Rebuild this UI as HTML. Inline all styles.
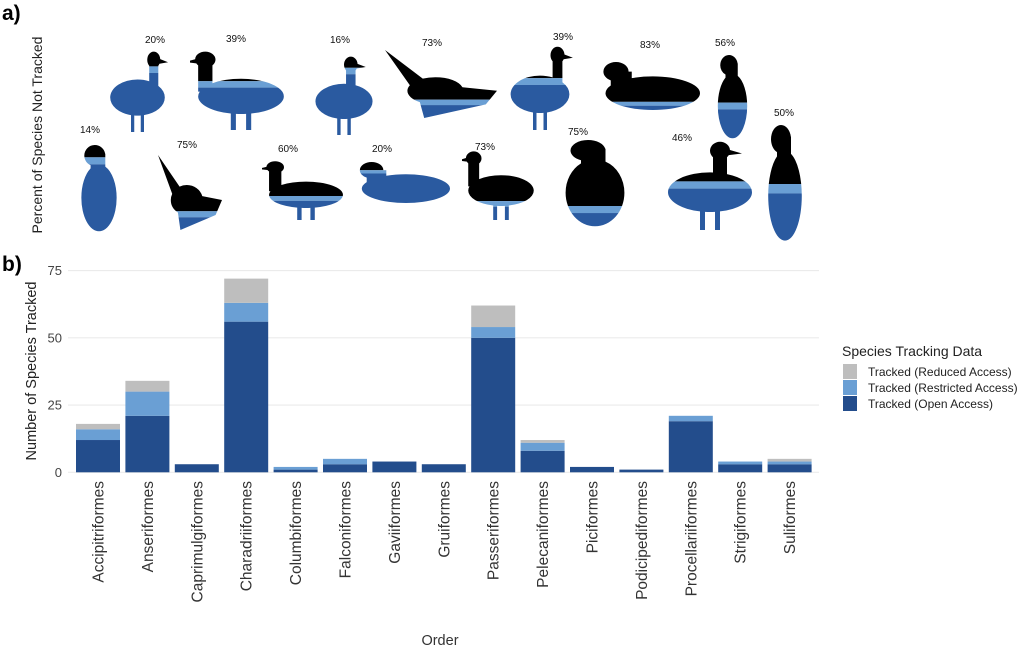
<!DOCTYPE html>
<html><head><meta charset="utf-8"><style>
html,body{margin:0;padding:0;background:#fff;}
svg{display:block;font-family:"Liberation Sans",Arial,sans-serif;}
</style></head><body>
<svg id="s" width="1024" height="649" viewBox="0 0 1024 649" xmlns="http://www.w3.org/2000/svg">
<rect width="1024" height="649" fill="#fff"/>
<text x="2" y="20" font-size="21" font-weight="bold" fill="#000">a)</text>
<text x="2" y="271" font-size="21" font-weight="bold" fill="#000">b)</text>
<text transform="translate(42,135) rotate(-90)" text-anchor="middle" font-size="14" fill="#222">Percent of Species Not Tracked</text>
<g id="birds"></g>
<g id="chart"></g>
<text transform="translate(36,371) rotate(-90)" text-anchor="middle" font-size="14.5" fill="#222">Number of Species Tracked</text>
<text x="440" y="645" text-anchor="middle" font-size="14.5" fill="#333">Order</text>
<text x="842" y="356" font-size="14" fill="#222">Species Tracking Data</text>
<rect x="843" y="364" width="14" height="15" fill="#bebebe"/>
<rect x="843" y="380" width="14" height="15" fill="#6a9fd4"/>
<rect x="843" y="396" width="14" height="15" fill="#234d8c"/>
<text x="868" y="376" font-size="12" fill="#222">Tracked (Reduced Access)</text>
<text x="868" y="392" font-size="12" fill="#222">Tracked (Restricted Access)</text>
<text x="868" y="408" font-size="12" fill="#222">Tracked (Open Access)</text>
</svg>
<script>
var NS="http://www.w3.org/2000/svg";
function el(p,t,a){var e=document.createElementNS(NS,t);for(var k in a)e.setAttribute(k,a[k]);p.appendChild(e);return e;}
var ch=document.getElementById("chart");
var y0=472.3,u=2.69;
[0,25,50,75].forEach(function(v){var y=y0-v*u;
 el(ch,"line",{x1:68,x2:819,y1:y,y2:y,stroke:"#ebebeb","stroke-width":1.2});
 var t=el(ch,"text",{x:62,y:y+4.5,"text-anchor":"end","font-size":13,fill:"#444"});t.textContent=v;});
var data=[["Accipitriformes",12,4,2],["Anseriformes",21,9,4],["Caprimulgiformes",3,0,0],["Charadriiformes",56,7,9],["Columbiformes",1,1,0],["Falconiformes",3,2,0],["Gaviiformes",4,0,0],["Gruiformes",3,0,0],["Passeriformes",50,4,8],["Pelecaniformes",8,3,1],["Piciformes",2,0,0],["Podicipediformes",1,0,0],["Procellariiformes",19,2,0],["Strigiformes",3,1,0],["Suliformes",3,1,1]];
data.forEach(function(d,i){var cx=98+i*49.4,x=cx-22;var b=y0;
 [[d[1],"#234d8c"],[d[2],"#6a9fd4"],[d[3],"#bebebe"]].forEach(function(s){if(s[0]>0){el(ch,"rect",{x:x,y:b-s[0]*u,width:44,height:s[0]*u,fill:s[1]});b-=s[0]*u;}});
 var t=el(ch,"text",{transform:"translate("+(cx+5.5)+",481) rotate(-90)","text-anchor":"end","font-size":15.5,fill:"#333"});t.textContent=d[0];});
var bg=document.getElementById("birds");
var birds=[
[155,43,20,105,50,170,132,1],[236,42,39,190,50,292,130,2],[340,43,16,310,55,378,135,3],[432,46,73,385,50,497,118,4],
[563,40,39,505,45,575,130,1],[650,48,83,595,62,700,110,5],[725,46,56,715,55,750,140,6],
[90,133,14,78,145,120,233,6],[187,148,75,158,155,222,230,4],[288,152,60,262,160,350,220,2],[382,152,20,352,162,450,203,5],
[485,150,73,462,150,540,220,2],[578,135,75,560,140,630,228,6],[682,141,46,660,140,760,230,3],[784,116,50,765,125,805,243,6]];
birds.forEach(function(b,i){
 var t=el(bg,"text",{x:b[0],y:b[1],"text-anchor":"middle","font-size":10,fill:"#111"});t.textContent=b[2]+"%";
 var x1=b[3],y1=b[4],x2=b[5],y2=b[6],w=x2-x1,h=y2-y1,cp="cp"+i;
 var c=el(bg,"clipPath",{id:cp});
 var typ=b[7];
 if(typ==6){
  el(c,"ellipse",{cx:x1+w*0.5,cy:y1+h*0.6,rx:w*0.42,ry:h*0.38});
  el(c,"ellipse",{cx:x1+w*0.4,cy:y1+h*0.12,rx:w*0.25,ry:h*0.12});
  el(c,"rect",{x:x1+w*0.3,y:y1+h*0.1,width:w*0.35,height:h*0.3});
 } else if(typ==4){
  el(c,"polygon",{points:[x1,y1,x1+w*0.4,y1+h*0.5,x2,y1+h*0.6,x2-w*0.1,y2-h*0.2,x1+w*0.35,y2,x1+w*0.3,y1+h*0.7].join(" ")});
  el(c,"ellipse",{cx:x1+w*0.45,cy:y1+h*0.6,rx:w*0.25,ry:h*0.2});
 } else if(typ==5){
  el(c,"ellipse",{cx:x1+w*0.55,cy:y1+h*0.65,rx:w*0.45,ry:h*0.35});
  el(c,"ellipse",{cx:x1+w*0.2,cy:y1+h*0.2,rx:w*0.12,ry:h*0.2});
  el(c,"rect",{x:x1+w*0.15,y:y1+h*0.2,width:w*0.2,height:h*0.5});
 } else {
  var hx=typ==2?x1+w*0.15:(typ==3?x1+w*0.6:x1+w*0.75);
  el(c,"ellipse",{cx:x1+w*0.5,cy:y1+h*0.58,rx:w*0.42,ry:h*0.22});
  el(c,"ellipse",{cx:hx,cy:y1+h*0.12,rx:w*0.1,ry:h*0.1});
  el(c,"rect",{x:hx-w*0.07,y:y1+h*0.12,width:w*0.14,height:h*0.4});
  el(c,"polygon",{points:[hx,y1+h*0.08,hx+(typ==2?-w*0.2:w*0.22),y1+h*0.15,hx,y1+h*0.18].join(" ")});
  el(c,"rect",{x:x1+w*0.4,y:y1+h*0.75,width:w*0.05,height:h*0.25});
  el(c,"rect",{x:x1+w*0.55,y:y1+h*0.75,width:w*0.05,height:h*0.25});
 }
 var g=el(bg,"g",{"clip-path":"url(#"+cp+")"});
 var bk=h*b[2]/100, lb=h*0.08;
 el(g,"rect",{x:x1,y:y1,width:w,height:bk,fill:"#000"});
 el(g,"rect",{x:x1,y:y1+bk,width:w,height:lb,fill:"#6a9fd4"});
 el(g,"rect",{x:x1,y:y1+bk+lb,width:w,height:h,fill:"#2a5aa0"});
});
</script>
</body></html>
